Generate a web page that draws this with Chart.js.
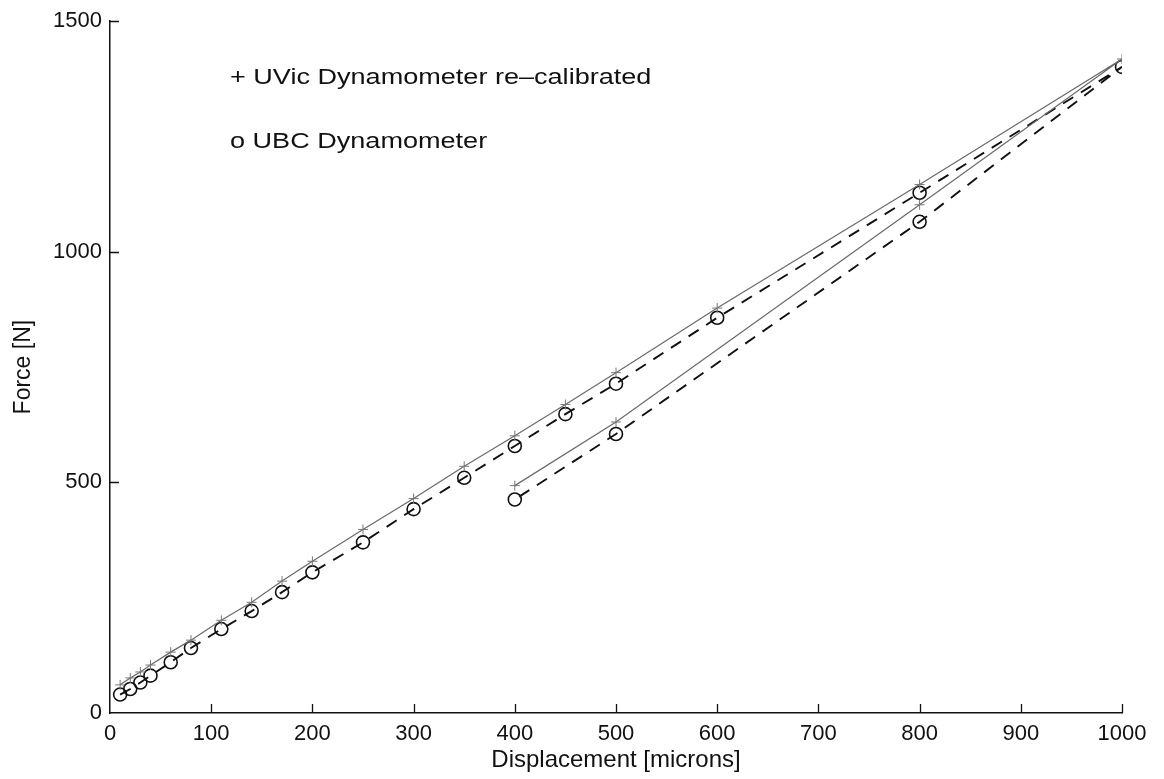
<!DOCTYPE html>
<html>
<head>
<meta charset="utf-8">
<script src="https://cdn.jsdelivr.net/npm/chart.js@4/dist/chart.umd.min.js"></script>
<style>
html,body{margin:0;padding:0;background:#fff;}
#wrap{width:1164px;height:779px;position:relative;}
</style>
</head>
<body>
<div id="wrap"><canvas id="c" width="1164" height="779"></canvas></div>
<script>
// Displacement [microns] — loading up to 1000, then unloading back to 400
const displacement = [10,20,30,40,60,80,110,140,170,200,250,300,350,400,450,500,600,800,1000,800,500,400];
// UVic Dynamometer re-calibrated (+)
const forceUVic = [61,76,89,104,132,158,201,240,286,329,398,465,535,601,669,738,878,1146,1418,1102,631,493];
// UBC Dynamometer (o)
const forceUBC = [40,52,66,81,110,141,182,221,262,305,370,442,510,579,648,714,857,1128,1401,1065,605,463];
const xTickValues = [0,100,200,300,400,500,600,700,800,900,1000];
const yTickValues = [0,500,1000,1500];
const legendLabels = ["+ UVic Dynamometer re\u2013calibrated", "o UBC Dynamometer"];
const xTitle = "Displacement [microns]";
const yTitle = "Force [N]";

const FONT = "'Liberation Sans', Arial, Helvetica, sans-serif";

const toPts = (xs, ys) => xs.map((v,i)=>({x:v, y:ys[i]}));

const overlay = {
  id: 'overlay',
  afterDraw(chart){
    const {ctx, scales:{x, y}, chartArea:a} = chart;
    ctx.save();
    ctx.strokeStyle = '#111';
    ctx.lineWidth = 1.3;
    ctx.beginPath();
    xTickValues.forEach(v=>{
      if (v === 0) return;
      const px = Math.round(x.getPixelForValue(v)) + 0.5;
      ctx.moveTo(px, a.bottom); ctx.lineTo(px, a.bottom - 9);
    });
    yTickValues.forEach(v=>{
      if (v === 0) return;
      const py = Math.round(y.getPixelForValue(v)) + 0.5;
      ctx.moveTo(a.left, py); ctx.lineTo(a.left + 9, py);
    });
    ctx.stroke();
    ctx.fillStyle = '#111';
    ctx.font = '22px ' + FONT;
    ctx.textBaseline = 'alphabetic';
    ctx.textAlign = 'left';
    const baselines = [84, 148];
    legendLabels.forEach((t, i) => {
      ctx.save();
      ctx.translate(230, baselines[i]);
      ctx.scale(1.23, 1);
      ctx.fillText(t, 0, 0);
      ctx.restore();
    });
    ctx.restore();
  }
};

new Chart(document.getElementById('c'), {
  type: 'line',
  data: {
    datasets: [
      {
        label: 'UVic Dynamometer re-calibrated',
        data: toPts(displacement, forceUVic),
        borderColor: '#6a6a6a',
        borderWidth: 1.2,
        pointStyle: 'cross',
        pointRadius: 5,
        pointBorderColor: '#777',
        pointBorderWidth: 1,
        pointBackgroundColor: '#777',
        fill: false,
        tension: 0
      },
      {
        label: 'UBC Dynamometer',
        data: toPts(displacement, forceUBC),
        borderColor: '#111',
        borderWidth: 1.9,
        borderDash: [12, 9],
        pointStyle: 'circle',
        pointRadius: 6.5,
        pointBorderColor: '#111',
        pointBorderWidth: 1.6,
        pointBackgroundColor: 'rgba(255,255,255,0)',
        fill: false,
        tension: 0
      }
    ]
  },
  options: {
    responsive: false,
    animation: false,
    events: [],
    layout: { padding: { top: 20, right: 42, left: 0, bottom: 0 } },
    plugins: { legend: { display: false }, tooltip: { enabled: false } },
    scales: {
      x: {
        type: 'linear',
        min: 0, max: 1000,
        afterBuildTicks: s => { s.ticks = xTickValues.map(v=>({value:v})); },
        afterFit: s => { s.height = 66; },
        grid: { display: false, drawTicks: false },
        border: { display: true, color: '#111', width: 1.5 },
        ticks: { color: '#111', font: { family: FONT, size: 22 }, padding: 8, maxRotation: 0, autoSkip: false, callback: v => String(v) },
        title: { display: true, text: xTitle, color: '#111', font: { family: FONT, size: 24 }, padding: { top: 0, bottom: 4 } }
      },
      y: {
        type: 'linear',
        min: 0, max: 1500,
        afterBuildTicks: s => { s.ticks = yTickValues.map(v=>({value:v})); },
        afterFit: s => { s.width = 110; },
        grid: { display: false, drawTicks: false },
        border: { display: true, color: '#111', width: 1.5 },
        ticks: { color: '#111', font: { family: FONT, size: 22 }, padding: 8, autoSkip: false, callback: v => String(v) },
        title: { display: true, text: yTitle, color: '#111', font: { family: FONT, size: 23 }, padding: { top: 10, bottom: 0 } }
      }
    }
  },
  plugins: [overlay]
});
</script>
</body>
</html>
